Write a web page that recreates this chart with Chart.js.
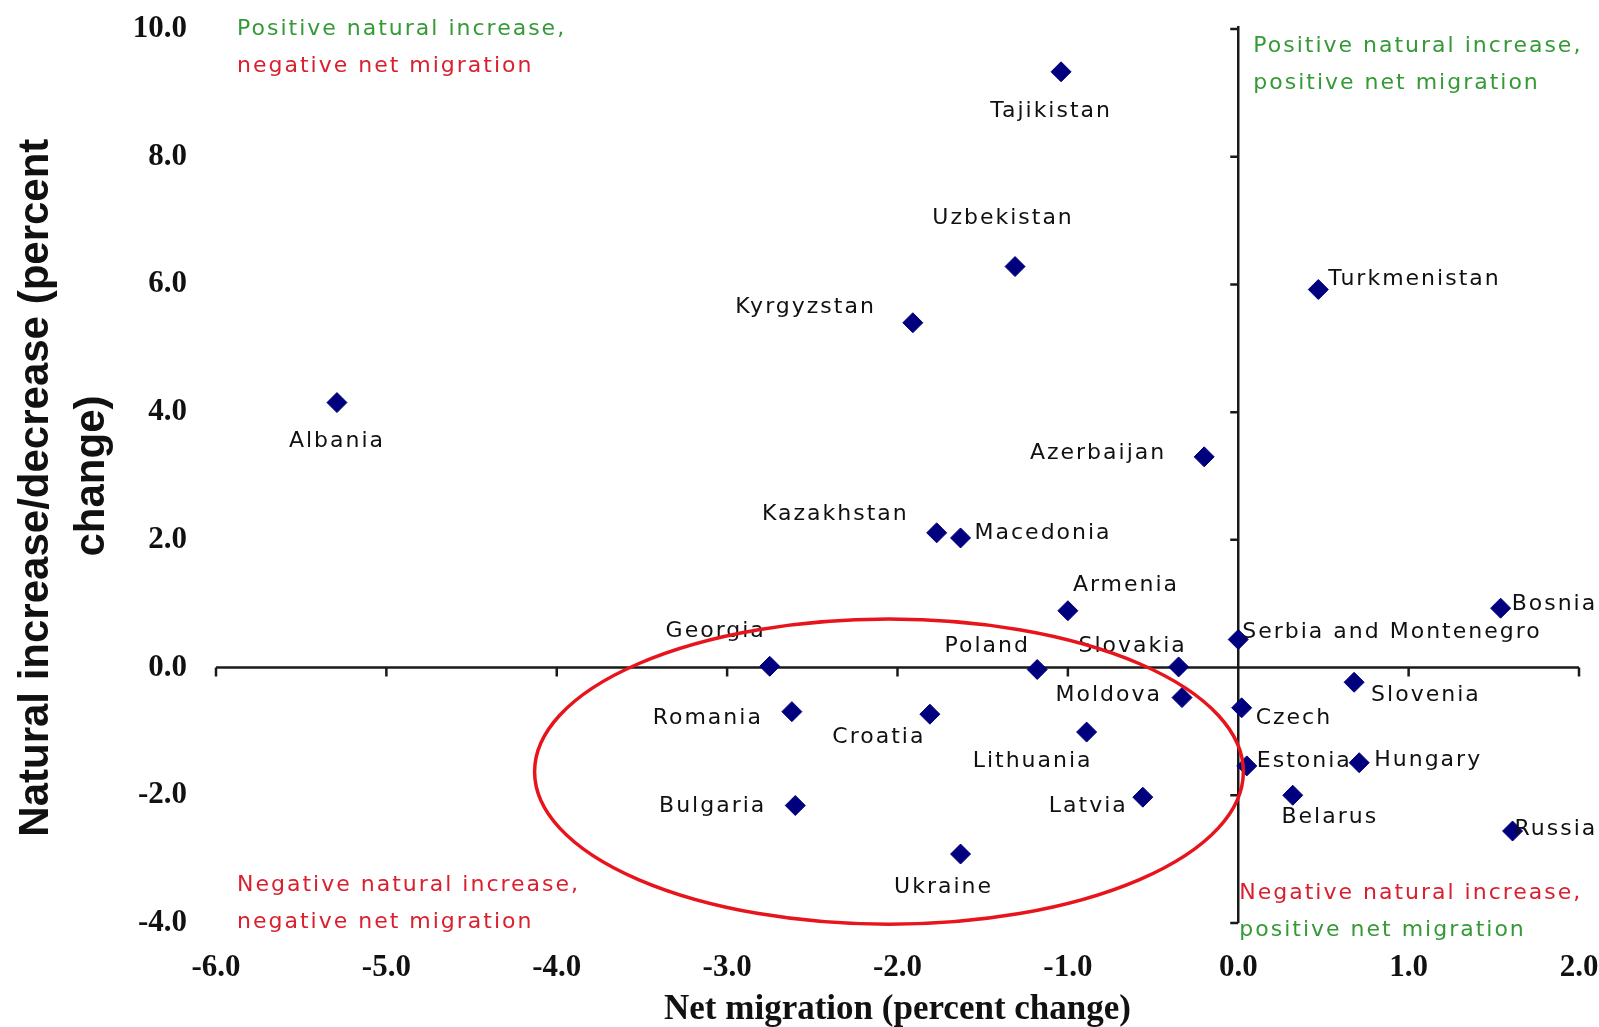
<!DOCTYPE html>
<html lang="en">
<head>
    <meta charset="utf-8" />
    <title>Natural increase vs net migration</title>
    <script src="https://cdn.jsdelivr.net/npm/chart.js"></script>
    <style>
        html, body { margin: 0; padding: 0; background: #fff; }
        #wrap { width: 1599px; height: 1027px; position: relative; }
    </style>
</head>
<body>
    <div id="wrap">
        <canvas id="migrationChart"></canvas>
    </div>
    <script>
        // countries and their values (percent change)
        const countries = ['Tajikistan', 'Uzbekistan', 'Kyrgyzstan', 'Turkmenistan', 'Albania', 'Azerbaijan',
            'Kazakhstan', 'Macedonia', 'Armenia', 'Bosnia', 'Serbia and Montenegro', 'Georgia', 'Poland',
            'Slovakia', 'Slovenia', 'Moldova', 'Romania', 'Croatia', 'Czech', 'Lithuania', 'Estonia',
            'Hungary', 'Belarus', 'Latvia', 'Bulgaria', 'Russia', 'Ukraine'];
        const netMigration = [-1.04, -1.31, -1.91, 0.47, -5.29, -0.2, -1.77, -1.63, -1.0, 1.54, 0.0, -2.75, -1.18,
            -0.35, 0.68, -0.33, -2.62, -1.81, 0.02, -0.89, 0.05, 0.71, 0.32, -0.56, -2.6, 1.61, -1.63];
        const naturalIncrease = [9.33, 6.28, 5.4, 5.92, 4.15, 3.3, 2.11, 2.03, 0.89, 0.93, 0.44, 0.02, -0.03,
            0.01, -0.23, -0.47, -0.69, -0.73, -0.63, -1.01, -1.54, -1.49, -2.0, -2.03, -2.16, -2.56, -2.92];

        const xTicks = [-6, -5, -4, -3, -2, -1, 0, 1, 2];
        const yTicks = [-4, -2, 0, 2, 4, 6, 8, 10];

        const GREEN = '#349a36';
        const RED = '#d9202e';

        // quadrant notes: two lines each, with their colours
        const quadrantNotes = [
            { corner: 'topLeft', lines: ['Positive natural increase,', 'negative net migration'], colors: [GREEN, RED] },
            { corner: 'topRight', lines: ['Positive natural increase,', 'positive net migration'], colors: [GREEN, GREEN] },
            { corner: 'bottomLeft', lines: ['Negative natural increase,', 'negative net migration'], colors: [RED, RED] },
            { corner: 'bottomRight', lines: ['Negative natural increase,', 'positive net migration'], colors: [RED, GREEN] }
        ];

        // where each country's name sits next to its marker: [align, dx, dy] in px
        const labelPlace = {
            'Tajikistan': ['center', -10, 39], 'Uzbekistan': ['center', -12, -48], 'Kyrgyzstan': ['right', -37, -15],
            'Turkmenistan': ['left', 10, -10], 'Albania': ['center', 0, 39], 'Azerbaijan': ['right', -38, -4],
            'Kazakhstan': ['right', -28, -19], 'Macedonia': ['left', 14, -5], 'Armenia': ['left', 5, -25],
            'Bosnia': ['left', 11, -4], 'Serbia and Montenegro': ['left', 4, -7], 'Georgia': ['center', -54, -35],
            'Poland': ['center', -50, -23], 'Slovakia': ['center', -46, -21], 'Slovenia': ['left', 17, 13],
            'Moldova': ['right', -20, -2], 'Romania': ['right', -29, 7], 'Croatia': ['center', -51, 23],
            'Czech': ['left', 14, 10], 'Lithuania': ['center', -54, 29], 'Estonia': ['left', 10, -5],
            'Hungary': ['left', 15, -2], 'Belarus': ['center', 37, 22], 'Latvia': ['right', -15, 9],
            'Bulgaria': ['right', -29, 1], 'Russia': ['left', 2, -2], 'Ukraine': ['center', -17, 33]
        };

        const labelFont = '22px "DejaVu Sans"';

        // crossing axes through (0,0) with small tick marks
        const crossAxes = {
            id: 'crossAxes',
            beforeDatasetsDraw(chart) {
                const ctx = chart.ctx;
                const xs = chart.scales.x, ys = chart.scales.y;
                const x0 = xs.getPixelForValue(0), y0 = ys.getPixelForValue(0);
                ctx.save();
                ctx.strokeStyle = '#1a1a1a';
                ctx.lineWidth = 2.5;
                ctx.beginPath();
                ctx.moveTo(xs.getPixelForValue(xTicks[0]), y0);
                ctx.lineTo(xs.getPixelForValue(xTicks[xTicks.length - 1]), y0);
                ctx.moveTo(x0, ys.getPixelForValue(yTicks[yTicks.length - 1]) - 3);
                ctx.lineTo(x0, ys.getPixelForValue(yTicks[0]));
                xTicks.forEach(v => {
                    const px = xs.getPixelForValue(v);
                    ctx.moveTo(px, y0);
                    ctx.lineTo(px, y0 + 9);
                });
                yTicks.forEach(v => {
                    const py = ys.getPixelForValue(v);
                    ctx.moveTo(x0, py);
                    ctx.lineTo(x0 - 8, py);
                });
                ctx.stroke();

                // quadrant notes
                ctx.font = labelFont;
                ctx.letterSpacing = '2px';
                ctx.textAlign = 'left';
                ctx.textBaseline = 'middle';
                const area = chart.chartArea;
                const spots = {
                    topLeft: [area.left + 21, area.top],
                    topRight: [x0 + 15, area.top + 17],
                    bottomLeft: [area.left + 21, area.bottom - 38],
                    bottomRight: [x0 + 1, area.bottom - 30]
                };
                quadrantNotes.forEach(n => {
                    const [sx, sy] = spots[n.corner];
                    n.lines.forEach((line, i) => {
                        ctx.fillStyle = n.colors[i];
                        ctx.fillText(line, sx, sy + i * 37);
                    });
                });
                ctx.restore();
            },
            afterDatasetsDraw(chart) {
                const ctx = chart.ctx;
                const xs = chart.scales.x, ys = chart.scales.y;
                const meta = chart.getDatasetMeta(0);
                ctx.save();
                ctx.font = labelFont;
                ctx.letterSpacing = '2px';
                ctx.fillStyle = '#111';
                ctx.textBaseline = 'middle';
                meta.data.forEach((pt, i) => {
                    const [align, dx, dy] = labelPlace[countries[i]];
                    ctx.textAlign = align;
                    ctx.fillText(countries[i], pt.x + dx, pt.y + dy);
                });

                // red ellipse around the negative/negative group
                const cx = xs.getPixelForValue(-2.05), cy = ys.getPixelForValue(-1.63);
                const rx = xs.getPixelForValue(-2.05 + 2.08) - cx;
                const ry = ys.getPixelForValue(-1.63 - 2.39) - cy;
                ctx.strokeStyle = '#e8141c';
                ctx.lineWidth = 3.5;
                ctx.beginPath();
                ctx.ellipse(cx, cy, rx, ry, 0, 0, Math.PI * 2);
                ctx.stroke();
                ctx.restore();
            }
        };

        const tickFont = { family: '"Liberation Serif", "Times New Roman", serif', size: 31, weight: 'bold' };

        new Chart(document.getElementById('migrationChart'), {
            type: 'scatter',
            data: {
                datasets: [{
                    data: countries.map((c, i) => ({ x: netMigration[i], y: naturalIncrease[i] })),
                    pointStyle: 'rectRot',
                    pointRadius: 10,
                    pointHoverRadius: 10,
                    backgroundColor: '#00007f',
                    borderColor: '#00007f',
                    borderWidth: 1
                }]
            },
            options: {
                responsive: true,
                maintainAspectRatio: false,
                animation: false,
                layout: { padding: { top: 29, right: 20, left: 0, bottom: 0 } },
                plugins: { legend: { display: false }, tooltip: { enabled: false } },
                scales: {
                    x: {
                        type: 'linear',
                        min: -6, max: 2,
                        afterBuildTicks: s => { s.ticks = xTicks.map(v => ({ value: v })); },
                        afterFit: s => { s.height = 104; s.paddingLeft = 0; s.paddingRight = 0; },
                        grid: { display: false, drawTicks: false },
                        border: { display: false },
                        ticks: {
                            padding: 26,
                            color: '#111',
                            font: tickFont,
                            callback: v => v.toFixed(1)
                        },
                        title: {
                            display: true,
                            text: 'Net migration (percent change)',
                            color: '#111',
                            padding: { top: 0, bottom: 0 },
                            font: { family: '"Liberation Serif", "Times New Roman", serif', size: 35, weight: 'bold', lineHeight: 1 }
                        }
                    },
                    y: {
                        type: 'linear',
                        min: -4, max: 10,
                        afterBuildTicks: s => { s.ticks = yTicks.map(v => ({ value: v })); },
                        afterFit: s => { s.width = 216; s.paddingTop = 0; s.paddingBottom = 0; },
                        grid: { display: false, drawTicks: false },
                        border: { display: false },
                        ticks: {
                            padding: 29,
                            color: '#111',
                            font: tickFont,
                            callback: v => v.toFixed(1)
                        },
                        title: {
                            display: true,
                            text: ['Natural increase/decrease (percent  ', 'change)'],
                            color: '#111',
                            padding: { top: 8, bottom: 0 },
                            font: { family: '"Liberation Sans", Arial, sans-serif', size: 42, weight: 'bold', lineHeight: 1.34 }
                        }
                    }
                }
            },
            plugins: [crossAxes]
        });
    </script>
</body>
</html>
